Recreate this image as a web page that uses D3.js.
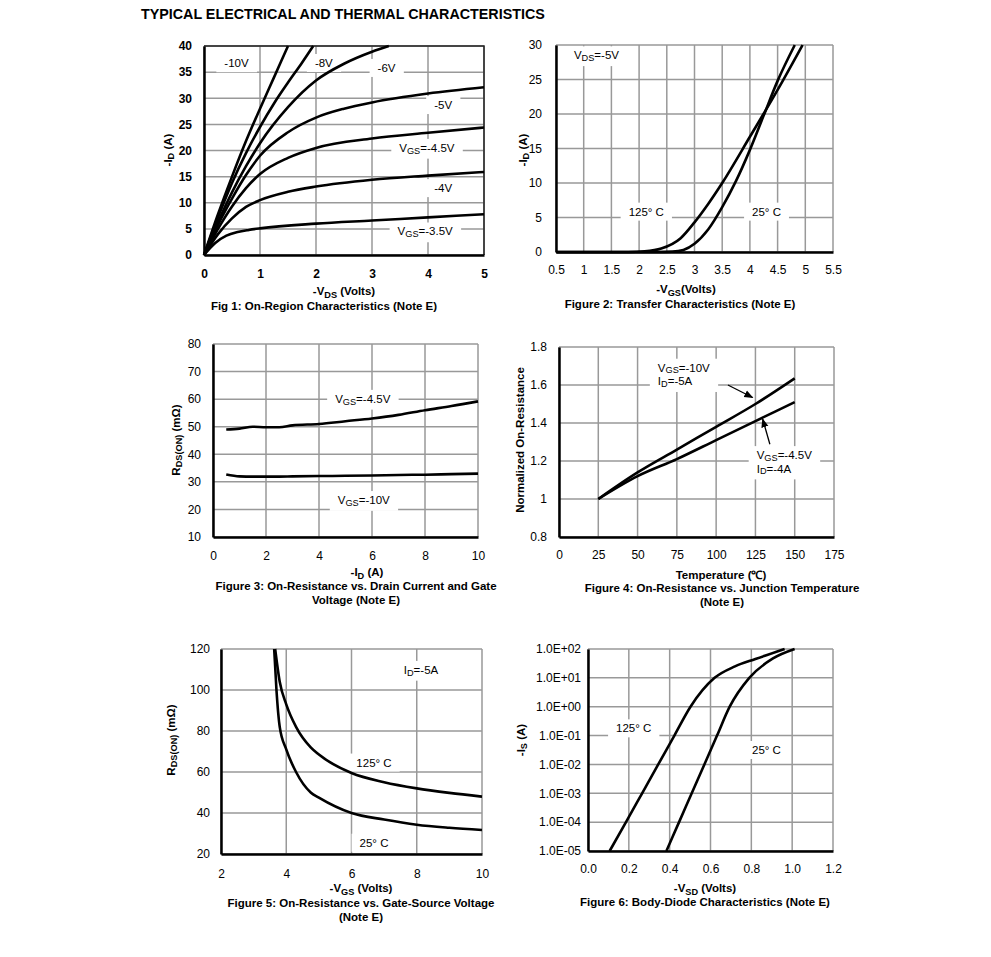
<!DOCTYPE html>
<meta charset="utf-8">
<head>
<style>
  body { margin: 0; background: #fff; }
  text { font-family: "Liberation Sans", Arial, sans-serif; fill: #000; }
</style>
</head>
<body>
<div id="chart"></div>
<script src="https://cdn.jsdelivr.net/npm/d3@7"></script>
<script>
// ---- data ----
// Fig 1: -ID vs -VDS, one array per VGS
const f1_m10 = [[0,0],[0.25,7.8],[0.5,15],[0.75,21.8],[1,28],[1.25,34],[1.5,40]];
const f1_m8  = [[0,0],[0.25,7.2],[0.5,13.8],[0.75,19.5],[1,24.5],[1.25,29],[1.5,33],[1.75,36.8],[1.95,40]];
const f1_m6  = [[0,0],[0.25,6.3],[0.5,12],[0.75,17],[1,21.4],[1.5,28.3],[2,33.4],[2.5,36.6],[3,38.9],[3.3,40]];
const f1_m5  = [[0,0],[0.25,5.8],[0.5,10.8],[0.75,15.3],[1,19],[1.5,23.5],[2,26.3],[2.5,28],[3,29.2],[4,30.9],[5,32.1]];
const f1_m45 = [[0,0],[0.25,5],[0.5,9.3],[0.75,12.8],[1,15.5],[1.5,18.6],[2,20.5],[3,22.3],[4,23.4],[5,24.4]];
const f1_m4  = [[0,0],[0.25,4],[0.5,7],[0.75,9.2],[1,10.5],[1.5,12.1],[2,13.1],[3,14.4],[4,15.2],[5,15.9]];
const f1_m35 = [[0,0],[0.2,2.3],[0.4,3.7],[0.6,4.4],[0.8,4.8],[1,5.1],[2,6],[3,6.6],[4,7.2],[5,7.8]];

// Fig 2: transfer curves
const f2_t25  = [[0.5,0],[2.3,0],[2.6,0.05],[2.8,0.3],[3,1.2],[3.25,3.3],[3.5,6.5],[3.75,10.3],[4,14.8],[4.25,19.8],[4.5,24.8],[4.81,30]];
const f2_t125 = [[0.5,0],[1.8,0],[2.1,0.1],[2.4,0.5],[2.75,2],[3,4.3],[3.25,7],[3.5,10],[4,16.7],[4.5,23.5],[4.95,30]];

// Fig 3: RDS(ON) vs -ID
const f3_id    = [0.5,1,1.5,2,2.5,3,4,5,6,7,8,9,10];
const f3_vgs45 = [49,49.3,50,49.8,49.8,50.5,51,52,53,54.3,56,57.5,59.2];
const f3_vgs10 = [32.7,32,31.9,31.9,31.9,32,32.1,32.2,32.3,32.5,32.6,32.8,33];

// Fig 4: normalized RDS(ON) vs temperature
const f4_temp  = [25,50,75,100,125,150];
const f4_vgs10 = [1,1.14,1.26,1.38,1.5,1.635];
const f4_vgs45 = [1,1.12,1.21,1.31,1.41,1.51];

// Fig 5: RDS(ON) vs -VGS
const f5_t25  = [[3.63,120],[3.7,100],[3.8,82],[4,71],[4.3,60],[4.75,50],[5,47.5],[6,40],[7,36.8],[8,34.3],[9,32.8],[10,31.7]];
const f5_t125 = [[3.66,120],[3.8,104],[4,93],[4.3,82],[4.75,72],[5,68.5],[6,59.5],[7,55],[8,52],[9,49.8],[10,48]];

// Fig 6: body diode
const f6_t125 = [[0.106,1e-5],[0.186,1e-4],[0.265,1e-3],[0.344,1e-2],[0.423,1e-1],[0.502,1],[0.62,10],[0.72,25],[0.82,45],[0.963,100]];
const f6_t25  = [[0.384,1e-5],[0.446,1e-4],[0.508,1e-3],[0.57,1e-2],[0.632,1e-1],[0.694,1],[0.79,10],[0.906,47],[1.012,100]];
const f6_yTicks  = [1e-5,1e-4,1e-3,1e-2,1e-1,1,10,100];
const f6_yLabels = ["1.0E-05","1.0E-04","1.0E-03","1.0E-02","1.0E-01","1.0E+00","1.0E+01","1.0E+02"];

// ---- drawing ----
let svg = d3.select('#chart').append('svg').attr('width', 991).attr('height', 957);

svg.append('text').attr('x', 141).attr('y', 19)
    .attr('font-size', 14.3).attr('font-weight', 'bold')
    .text('TYPICAL ELECTRICAL AND THERMAL CHARACTERISTICS');

// text with _{sub} parts, sub shifted by dy
function rich(t, s, fs) {
    let shift = 0;
    s.split(/(_\{[^}]*\})/).filter(d => d).forEach(part => {
        if (part.startsWith('_{')) {
            t.append('tspan').attr('dy', fs * 0.24 - shift).attr('font-size', fs * 0.8).text(part.slice(2, -1));
            shift = fs * 0.24;
        } else {
            t.append('tspan').attr('dy', -shift).text(part);
            shift = 0;
        }
    });
}

function boxLabel(g, px, py, lines, anchor) {
    let lg = g.append('g');
    lines.forEach((l, i) => {
        let t = lg.append('text').attr('x', px).attr('y', py + i * 13.5)
            .attr('font-size', 11.5).attr('text-anchor', anchor || 'middle')
            .attr('dominant-baseline', 'central');
        rich(t, l, 11.5);
    });
    let b = lg.node().getBBox();
    lg.insert('rect', ':first-child')
        .attr('x', b.x - 8).attr('y', b.y - 3)
        .attr('width', b.width + 16).attr('height', b.height + 6)
        .attr('fill', '#fff');
}

let line = (x, y) => d3.line().x(d => x(d[0])).y(d => y(d[1])).curve(d3.curveMonotoneX);

function panel(p) {
    let g = svg.append('g');
    let x = d3.scaleLinear().domain(p.xDom).range([p.x0, p.x1]);
    let y = (p.log ? d3.scaleLog() : d3.scaleLinear()).domain(p.yDom).range([p.y1, p.y0]);

    // grid
    g.append('g').selectAll('line').data(p.xTicks).join('line')
        .attr('x1', d => x(d)).attr('x2', d => x(d)).attr('y1', p.y0).attr('y2', p.y1)
        .attr('stroke', '#999').attr('stroke-width', 1.5);
    g.append('g').selectAll('line').data(p.yTicks).join('line')
        .attr('y1', d => y(d)).attr('y2', d => y(d)).attr('x1', p.x0).attr('x2', p.x1)
        .attr('stroke', '#999').attr('stroke-width', 1.5);
    if (p.frame) {
        g.append('path').attr('d', `M${p.x0},${p.y0}H${p.x1}V${p.y1}`)
            .attr('fill', 'none').attr('stroke', '#222').attr('stroke-width', 1.5);
    }

    // labels (drawn under the curves)
    (p.labels || []).forEach(l => boxLabel(g, x(l.x), y(l.y), l.t, l.anchor));

    // axes
    let xa = g.append('g').attr('transform', `translate(0,${p.y1})`)
        .call(d3.axisBottom(x).tickValues(p.xTicks).tickSize(0).tickSizeOuter(0)
            .tickPadding(p.xPad).tickFormat(p.xFmt || (d => d)));
    let ya = g.append('g').attr('transform', `translate(${p.x0},0)`)
        .call(d3.axisLeft(y).tickValues(p.yTicks).tickSize(0).tickSizeOuter(0)
            .tickPadding(p.yPad).tickFormat(p.yFmt || (d => d)));
    [xa, ya].forEach(a => {
        a.select('.domain').attr('stroke', '#000').attr('stroke-width', 2.5);
        a.selectAll('text').attr('font-family', '"Liberation Sans", Arial, sans-serif')
            .attr('font-size', 12).attr('font-weight', p.tickBold ? 'bold' : 'normal');
    });

    // curves
    p.series.forEach(s => {
        g.append('path').datum(s).attr('d', line(x, y)).attr('fill', 'none')
            .attr('stroke', '#000').attr('stroke-width', 2.6).attr('stroke-linejoin', 'round');
    });

    // arrows
    (p.arrows || []).forEach(a => {
        g.append('line').attr('x1', x(a[0])).attr('y1', y(a[1])).attr('x2', x(a[2])).attr('y2', y(a[3]))
            .attr('stroke', '#000').attr('stroke-width', 1.3).attr('marker-end', 'url(#arrow)');
    });

    // titles
    let xt = g.append('text').attr('x', p.xt[0]).attr('y', p.xt[1])
        .attr('text-anchor', 'middle').attr('font-size', 11.5).attr('font-weight', 'bold');
    rich(xt, p.xTitle, 11.5);
    let yt = g.append('text').attr('transform', `translate(${p.yt[0]},${p.yt[1]}) rotate(-90)`)
        .attr('text-anchor', 'middle').attr('dominant-baseline', 'central')
        .attr('font-size', 11.5).attr('font-weight', 'bold');
    rich(yt, p.yTitle, 11.5);
    p.caption.forEach((c, i) => {
        g.append('text').attr('x', p.cap[0]).attr('y', p.cap[1] + i * 13.5)
            .attr('text-anchor', 'middle').attr('font-size', 11.5).attr('font-weight', 'bold').text(c);
    });
}

svg.append('defs').append('marker').attr('id', 'arrow')
    .attr('viewBox', '0 0 10 10').attr('refX', 9).attr('refY', 5)
    .attr('markerWidth', 7).attr('markerHeight', 7).attr('orient', 'auto')
    .append('path').attr('d', 'M0,1L10,5L0,9Z').attr('fill', '#000');

const toRows = (xs, ys) => xs.map((v, i) => [v, ys[i]]);

panel({
    x0: 204, x1: 484, y0: 46, y1: 255, xDom: [0, 5], yDom: [0, 40],
    xTicks: d3.range(0, 5.01, 1), yTicks: d3.range(0, 40.1, 5), frame: true,
    xPad: 14, yPad: 12, tickBold: true,
    series: [f1_m10, f1_m8, f1_m6, f1_m5, f1_m45, f1_m4, f1_m35],
    labels: [
        {t: ['-10V'], x: 0.58, y: 36.7}, {t: ['-8V'], x: 2.14, y: 36.75},
        {t: ['-6V'], x: 3.26, y: 35.8}, {t: ['-5V'], x: 4.27, y: 28.7},
        {t: ['V_{GS}=-4.5V'], x: 3.98, y: 20.5}, {t: ['-4V'], x: 4.27, y: 12.8},
        {t: ['V_{GS}=-3.5V'], x: 3.95, y: 4.5}
    ],
    xTitle: '-V_{DS} (Volts)', xt: [344, 295], yTitle: '-I_{D} (A)', yt: [168, 150],
    caption: ['Fig 1: On-Region Characteristics (Note E)'], cap: [324, 310]
});

panel({
    x0: 556, x1: 833, y0: 45, y1: 252, xDom: [0.5, 5.5], yDom: [0, 30],
    xTicks: d3.range(0.5, 5.51, 0.5), yTicks: d3.range(0, 30.1, 5),
    xPad: 13, yPad: 14,
    series: [f2_t25, f2_t125],
    labels: [
        {t: ['V_{DS}=-5V'], x: 1.23, y: 28.5}, {t: ['125°  C'], x: 2.13, y: 5.85},
        {t: ['25°  C'], x: 4.3, y: 5.85}
    ],
    xTitle: '-V_{GS}(Volts)', xt: [686, 293], yTitle: '-I_{D} (A)', yt: [523, 150],
    caption: ['Figure 2: Transfer Characteristics (Note E)'], cap: [680, 308]
});

panel({
    x0: 213, x1: 478, y0: 344, y1: 537, xDom: [0, 10], yDom: [10, 80],
    xTicks: d3.range(0, 10.1, 2), yTicks: d3.range(10, 80.1, 10),
    xPad: 14, yPad: 12,
    series: [toRows(f3_id, f3_vgs45), toRows(f3_id, f3_vgs10)],
    labels: [
        {t: ['V_{GS}=-4.5V'], x: 5.65, y: 60.1}, {t: ['V_{GS}=-10V'], x: 5.69, y: 23.4}
    ],
    xTitle: '-I_{D} (A)', xt: [367, 576], yTitle: 'R_{DS(ON)} (mΩ)', yt: [176, 440],
    caption: ['Figure 3: On-Resistance vs. Drain Current and Gate', 'Voltage (Note E)'], cap: [356, 590]
});

panel({
    x0: 559, x1: 834, y0: 347, y1: 537, xDom: [0, 175], yDom: [0.8, 1.8],
    xTicks: d3.range(0, 176, 25), yTicks: [0.8, 1, 1.2, 1.4, 1.6, 1.8],
    xPad: 13, yPad: 12, yFmt: d => d3.format('~g')(d),
    series: [toRows(f4_temp, f4_vgs10), toRows(f4_temp, f4_vgs45)],
    labels: [
        {t: ['V_{GS}=-10V', 'I_{D}=-5A'], x: 62.9, y: 1.691, anchor: 'start'},
        {t: ['V_{GS}=-4.5V', 'I_{D}=-4A'], x: 125.8, y: 1.231, anchor: 'start'}
    ],
    arrows: [[107.5, 1.60, 123.2, 1.534], [134.2, 1.288, 129.6, 1.421]],
    xTitle: 'Temperature (℃)', xt: [721, 579], yTitle: 'Normalized On-Resistance', yt: [520, 440],
    caption: ['Figure 4: On-Resistance vs. Junction Temperature', '(Note E)'], cap: [722, 592]
});

panel({
    x0: 221, x1: 482, y0: 649, y1: 854, xDom: [2, 10], yDom: [20, 120],
    xTicks: d3.range(2, 10.1, 2), yTicks: d3.range(20, 120.1, 20),
    xPad: 15, yPad: 11,
    series: [f5_t25, f5_t125],
    labels: [
        {t: ['I_{D}=-5A'], x: 8.13, y: 109.8}, {t: ['125°  C'], x: 6.69, y: 64.6},
        {t: ['25°  C'], x: 6.69, y: 25.5}
    ],
    xTitle: '-V_{GS} (Volts)', xt: [361, 892], yTitle: 'R_{DS(ON)} (mΩ)', yt: [171, 740],
    caption: ['Figure 5: On-Resistance vs. Gate-Source Voltage', '(Note E)'], cap: [361, 907]
});

panel({
    x0: 588, x1: 833, y0: 649, y1: 851, xDom: [0, 1.2], yDom: [1e-5, 100], log: true,
    xTicks: d3.range(0, 1.21, 0.2), yTicks: f6_yTicks,
    xPad: 13, yPad: 7, xFmt: d3.format('.1f'), yFmt: (d, i) => f6_yLabels[i],
    series: [f6_t125, f6_t25],
    labels: [
        {t: ['125°  C'], x: 0.224, y: 0.178}, {t: ['25°  C'], x: 0.874, y: 0.0316}
    ],
    xTitle: '-V_{SD} (Volts)', xt: [705, 892], yTitle: '-I_{S} (A)', yt: [521, 740],
    caption: ['Figure 6: Body-Diode Characteristics (Note E)'], cap: [705, 906]
});
</script>
</body>
